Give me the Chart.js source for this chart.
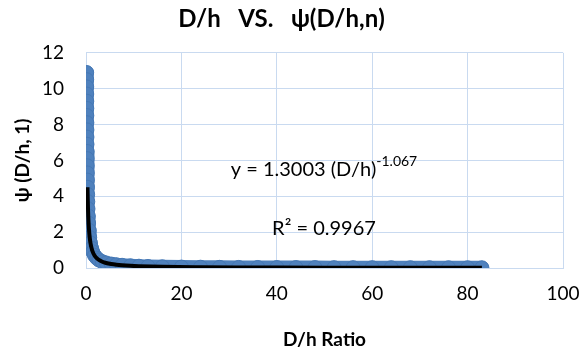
<!DOCTYPE html>
<html lang="en">
<head>
  <meta charset="UTF-8">
  <title>D/h vs psi</title>
  <script src="https://cdn.jsdelivr.net/npm/chart.js"></script>
  <style>
    html, body { margin: 0; padding: 0; overflow: hidden; background: #fff; }
    canvas { display: block; }
  </style>
</head>
<body>
  <canvas id="psiChart" width="582" height="358"></canvas>
  <script>
    // measured points: D/h ratio and psi(D/h, 1)
    const ratioX = [0.136, 0.141, 0.146, 0.152, 0.158, 0.165, 0.172, 0.180, 0.189, 0.199,
                    0.209, 0.221, 0.235, 0.250, 0.268, 0.288, 0.312, 0.341, 0.375, 0.418,
                    0.472, 0.542, 0.638, 0.778, 0.933, 1.17, 1.41, 1.79, 2.24, 2.70,
                    3.42, 4.22, 5.29, 6.38, 7.57, 9.33, 11.1, 13, 16, 20,
                    24, 28, 32, 36, 40, 44, 48, 52, 56, 60,
                    64, 68, 72, 76, 80, 83];
    const psiY = [10.9, 10.5, 10.1, 9.7, 9.3, 8.9, 8.5, 8.1, 7.7, 7.3,
                  6.9, 6.5, 6.1, 5.7, 5.3, 4.9, 4.5, 4.1, 3.7, 3.3,
                  2.9, 2.5, 2.1, 1.7, 1.4, 1.1, 0.9, 0.7, 0.55, 0.45,
                  0.35, 0.28, 0.22, 0.18, 0.15, 0.12, 0.10, 0.084, 0.067, 0.053,
                  0.044, 0.037, 0.032, 0.028, 0.025, 0.023, 0.021, 0.019, 0.018, 0.017,
                  0.016, 0.015, 0.014, 0.013, 0.012, 0.012];

    // power trend line y = 1.3003 (D/h)^-1.067
    const trendX = [0.31, 0.34, 0.38, 0.42, 0.47, 0.54, 0.64, 0.78, 0.93, 1.17,
                    1.41, 1.79, 2.24, 2.7, 3.42, 4.22, 5.29, 6.38, 7.57, 9.33,
                    11.1, 16, 24, 32, 40, 50, 60, 70, 83];
    const trendY = [4.5, 4.1, 3.7, 3.3, 2.9, 2.5, 2.1, 1.7, 1.4, 1.1,
                    0.9, 0.7, 0.55, 0.45, 0.35, 0.28, 0.22, 0.18, 0.15, 0.12,
                    0.10, 0.067, 0.044, 0.032, 0.025, 0.020, 0.017, 0.014, 0.012];

    const xTicks = [0, 20, 40, 60, 80, 100];
    const yTicks = [0, 2, 4, 6, 8, 10, 12];

    const FONT = 'Lato, "Liberation Sans", sans-serif';
    const BLUE = '#4f81bd';
    const GRID = '#c9daf0';

    const pts = (xs, ys) => xs.map((x, i) => ({ x, y: ys[i] }));

    // equation and R² written inside the plot
    const fitLabel = {
      id: 'fitLabel',
      afterDraw(chart) {
        const ctx = chart.ctx;
        const cx = 324;
        ctx.save();
        ctx.fillStyle = '#000';
        ctx.textBaseline = 'alphabetic';
        const main = 'y = 1.3003 (D/h)';
        const sup = '-1.067';
        ctx.font = '20px ' + FONT;
        const w1 = ctx.measureText(main).width;
        ctx.font = '14px ' + FONT;
        const w2 = ctx.measureText(sup).width;
        const start = cx - (w1 + w2) / 2;
        ctx.font = '20px ' + FONT;
        ctx.textAlign = 'left';
        ctx.fillText(main, start, 176);
        ctx.font = '14px ' + FONT;
        ctx.fillText(sup, start + w1, 166);
        ctx.font = '20px ' + FONT;
        ctx.textAlign = 'center';
        ctx.fillText('R² = 0.9967', cx, 235);
        ctx.restore();
      }
    };

    new Chart(document.getElementById('psiChart'), {
      type: 'scatter',
      data: {
        datasets: [
          {
            label: 'psi',
            data: pts(ratioX, psiY),
            showLine: true,
            borderColor: BLUE,
            borderWidth: 14,
            borderCapStyle: 'round',
            borderJoinStyle: 'round',
            pointRadius: 7,
            pointBackgroundColor: BLUE,
            pointBorderColor: '#4678b4',
            pointBorderWidth: 1,
            order: 2
          },
          {
            label: 'Power fit',
            data: pts(trendX, trendY),
            showLine: true,
            borderColor: '#000',
            borderWidth: 4,
            cubicInterpolationMode: 'monotone',
            pointRadius: 0,
            order: 1
          }
        ]
      },
      options: {
        responsive: false,
        animation: false,
        layout: { padding: { left: 0, right: 19, top: 0, bottom: 0 } },
        plugins: {
          legend: { display: false },
          tooltip: { enabled: false },
          title: {
            display: true,
            text: 'D/h   VS.   ψ(D/h,n)',
            color: '#000',
            font: { family: FONT, size: 24, weight: 'bold' },
            padding: { top: 5, bottom: 19 }
          }
        },
        scales: {
          x: {
            type: 'linear',
            min: 0,
            max: 100,
            afterBuildTicks: s => { s.ticks = xTicks.map(v => ({ value: v })); },
            afterFit: s => { s.height = 90; s.paddingRight = 0; s.paddingLeft = 0; },
            grid: { color: GRID, drawTicks: false },
            border: { color: GRID },
            ticks: { color: '#000', padding: 14, font: { family: FONT, size: 19 } },
            title: {
              display: true,
              text: 'D/h Ratio',
              color: '#000',
              font: { family: FONT, size: 19, weight: 'bold' },
              padding: { top: 0, bottom: 7 }
            }
          },
          y: {
            type: 'linear',
            min: 0,
            max: 12,
            afterBuildTicks: s => { s.ticks = yTicks.map(v => ({ value: v })); },
            afterFit: s => { s.width = 86; },
            grid: { color: GRID, drawTicks: false },
            border: { color: GRID },
            ticks: { color: '#000', padding: 22, font: { family: FONT, size: 19 } },
            title: {
              display: true,
              text: 'ψ (D/h, 1)',
              color: '#000',
              font: { family: FONT, size: 19, weight: 'bold' },
              padding: { top: 11, bottom: 0 }
            }
          }
        }
      },
      plugins: [fitLabel]
    });
  </script>
</body>
</html>
